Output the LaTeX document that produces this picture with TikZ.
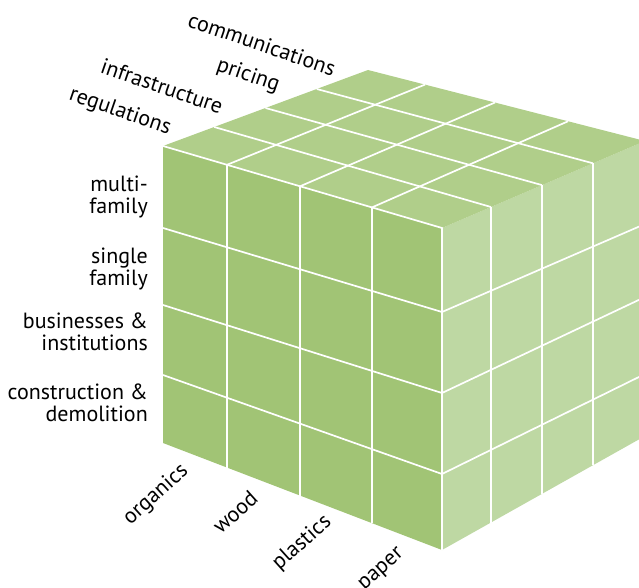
\documentclass[tikz,border=0pt]{standalone}
\usepackage{fontspec}
\setmainfont{PT Sans}
\begin{document}
\begin{tikzpicture}[x=1pt,y=-1pt,
  grid/.style={white,line width=1.7pt},
  lab/.style={font=\fontsize{22}{21.5}\selectfont,inner sep=0pt},
  leftlab/.style={lab,anchor=east,align=right},
  toplab/.style={lab,rotate=-19},
  botlab/.style={lab,rotate=42}]
\useasboundingbox (0,0) rectangle (639,588);
\begin{scope}
\clip (0,0) rectangle (639,588);
% corners
\coordinate (F0) at (163,146);
\coordinate (F1) at (442,228);
\coordinate (F2) at (442,550);
\coordinate (F3) at (163,443);
\coordinate (B0) at (368,70);
\coordinate (B1) at (645,141);
\coordinate (R2) at (645,436);
% faces
\fill[fill={rgb,255:red,161;green,196;blue,117}] (F0) -- (F1) -- (F2) -- (F3) -- cycle;
\fill[fill={rgb,255:red,190;green,216;blue,163}] (F1) -- (B1) -- (R2) -- (F2) -- cycle;
\fill[fill={rgb,255:red,176;green,206;blue,138}] (F0) -- (B0) -- (B1) -- (F1) -- cycle;
% front face grid
\coordinate (fv1t) at (227,164.8); \coordinate (fv1b) at (227,467.5);
\coordinate (fv2t) at (300,186.3); \coordinate (fv2b) at (300,495.5);
\coordinate (fv3t) at (372,207.4); \coordinate (fv3b) at (372,523.2);
\draw[grid] (fv1t) -- (fv1b) (fv2t) -- (fv2b) (fv3t) -- (fv3b);
\coordinate (fh1l) at (163,228); \coordinate (fh1r) at (442,312);
\coordinate (fh2l) at (163,305); \coordinate (fh2r) at (442,393);
\coordinate (fh3l) at (163,375); \coordinate (fh3r) at (442,474);
\draw[grid] (fh1l) -- (fh1r) (fh2l) -- (fh2r) (fh3l) -- (fh3r);
% right face grid
\coordinate (rv1t) at (491,207.0); \coordinate (rv1b) at (491,522.5);
\coordinate (rv2t) at (542,185.1); \coordinate (rv2b) at (542,493.8);
\coordinate (rv3t) at (593,163.3); \coordinate (rv3b) at (593,465.2);
\draw[grid] (rv1t) -- (rv1b) (rv2t) -- (rv2b) (rv3t) -- (rv3b);
\coordinate (rh1r) at (645,224);
\coordinate (rh2r) at (645,297);
\coordinate (rh3r) at (645,374);
\draw[grid] (fh1r) -- (rh1r) (fh2r) -- (rh2r) (fh3r) -- (rh3r);
% top face grid
\coordinate (tc1) at (425,84.6);
\coordinate (tc2) at (495,102.5);
\coordinate (tc3) at (568,121.3);
\draw[grid] (fv1t) -- (tc1) (fv2t) -- (tc2) (fv3t) -- (tc3);
\coordinate (tr1) at (214.25,127);
\coordinate (tr2) at (265.5,108);
\coordinate (tr3) at (316.75,89);
\draw[grid] (tr1) -- (rv1t) (tr2) -- (rv2t) (tr3) -- (rv3t);
% edges between faces
\draw[grid] (F0) -- (F1) -- (F2);
\end{scope}
% left labels
\node[leftlab] (l1) at (148,197) {multi-\\family};
\node[leftlab] (l2) at (148,269) {single\\family};
\node[leftlab] (l3) at (148,332) {businesses \&\\institutions};
\node[leftlab] (l4) at (148,403) {construction \&\\demolition};
% top labels
\node[toplab] (t1) at (120,112) {regulations};
\node[toplab] (t2) at (162,86) {infrastructure};
\node[toplab] (t3) at (248,76) {pricing};
\node[toplab] (t4) at (262,44) {communications};
% bottom labels
\node[botlab] (b1) at (156,495) {organics};
\node[botlab] (b2) at (235,512) {wood};
\node[botlab] (b3) at (302,543) {plastics};
\node[botlab] (b4) at (382,570) {paper};
\end{tikzpicture}
\end{document}
